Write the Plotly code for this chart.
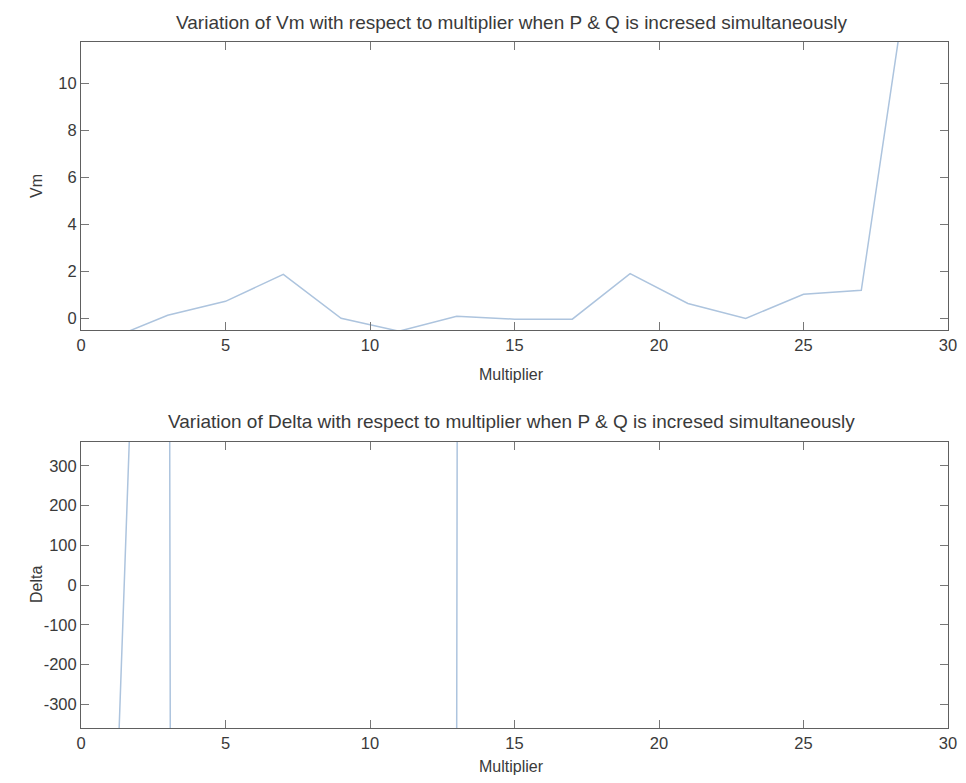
import plotly.graph_objects as go

# Load-flow sweep: bus voltage magnitude and angle against load multiplier
multiplier = [1, 3, 5, 7, 9, 11, 13, 15, 17, 19, 21, 23, 25, 27, 29]
vm = [-0.88, 0.13, 0.72, 1.87, 0.0, -0.55, 0.08, -0.04, -0.04, 1.9, 0.63, -0.01, 1.02, 1.19, 17.8]
delta = [-1018, 3096, -75000, -62000, -51000, -40000, -370, 90000, 84000, 78000, 71000, 65000, 58000, 52000, 46000]

x_ticks = [0, 5, 10, 15, 20, 25, 30]
vm_ticks = [0, 2, 4, 6, 8, 10]
delta_ticks = [-300, -200, -100, 0, 100, 200, 300]
delta_tick_text = ["-300", "-200", "-100", "0", "100", "200", "300"]

title_vm = "Variation of Vm with respect to multiplier when P & Q is incresed simultaneously"
title_delta = "Variation of Delta with respect to multiplier when P & Q is incresed simultaneously"

W, H = 966, 783
FONT = "Liberation Sans, Arial, sans-serif"
TXT = "#3a3a3a"
LINE = "#adc4de"
AX = "#606060"

# plot rectangles in pixels: (left, top, right, bottom)
top_box = (81, 42, 948, 330)
bot_box = (81, 442, 948, 728)


def xdom(b):
    return [b[0] / W, b[2] / W]


def ydom(b):
    return [1 - b[3] / H, 1 - b[1] / H]


fig = go.Figure()
fig.add_trace(go.Scatter(x=multiplier, y=vm, mode="lines",
                         line=dict(color=LINE, width=1.5),
                         xaxis="x", yaxis="y", showlegend=False))
fig.add_trace(go.Scatter(x=multiplier, y=delta, mode="lines",
                         line=dict(color=LINE, width=1.5),
                         xaxis="x2", yaxis="y2", showlegend=False))

axis_common = dict(showgrid=False, zeroline=False, showline=True, linecolor=AX,
                   linewidth=1, mirror="allticks", ticks="inside", ticklen=8,
                   tickcolor="#777777", automargin=False,
                   tickfont=dict(family=FONT, size=16.5, color=TXT))

fig.update_layout(
    width=W, height=H,
    margin=dict(l=0, r=0, t=0, b=0),
    paper_bgcolor="white", plot_bgcolor="white",
    xaxis=dict(domain=xdom(top_box), range=[0, 30], tickvals=x_ticks,
               anchor="y", **axis_common),
    yaxis=dict(domain=ydom(top_box), range=[-0.5, 11.75], tickvals=vm_ticks,
               anchor="x", **axis_common),
    xaxis2=dict(domain=xdom(bot_box), range=[0, 30], tickvals=x_ticks,
                anchor="y2", **axis_common),
    yaxis2=dict(domain=ydom(bot_box), range=[-360, 360], tickvals=delta_ticks,
                ticktext=delta_tick_text, anchor="x2", **axis_common),
)

label_font = dict(family=FONT, size=16, color=TXT)
title_font = dict(family=FONT, size=19, color=TXT)
cx = 511 / W
annotations = [
    dict(text=title_vm, x=cx, y=1 - 22 / H, font=title_font),
    dict(text=title_delta, x=cx, y=1 - 421 / H, font=title_font),
    dict(text="Multiplier", x=cx, y=1 - 374 / H, font=label_font),
    dict(text="Multiplier", x=cx, y=1 - 766 / H, font=label_font),
    dict(text="Vm", x=36 / W, y=1 - (top_box[1] + top_box[3]) / 2 / H,
         textangle=-90, font=label_font),
    dict(text="Delta", x=36 / W, y=1 - (bot_box[1] + bot_box[3]) / 2 / H,
         textangle=-90, font=label_font),
]
for a in annotations:
    fig.add_annotation(xref="paper", yref="paper", showarrow=False,
                       xanchor="center", yanchor="middle", **a)

fig.write_html("out.html")
